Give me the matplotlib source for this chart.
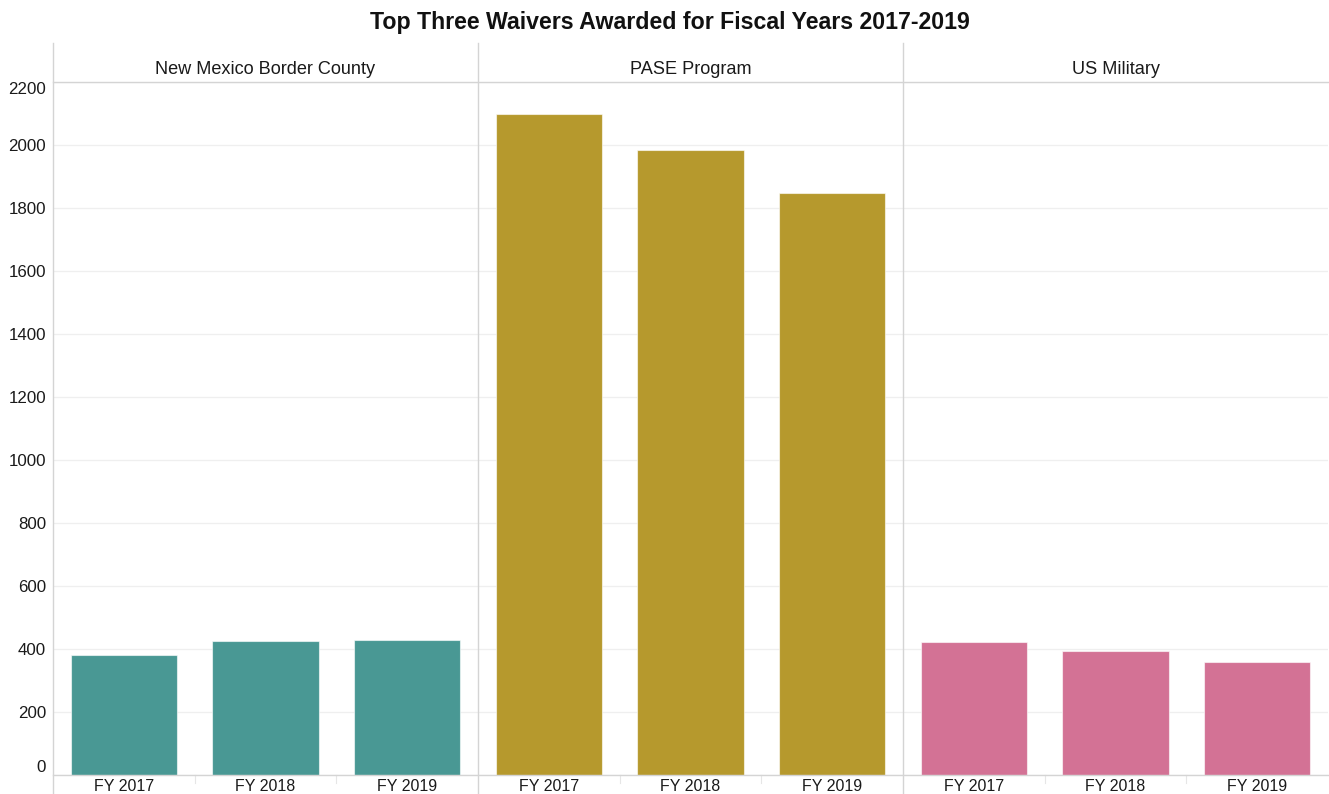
import matplotlib
matplotlib.use("Agg")
import matplotlib.pyplot as plt
from matplotlib.lines import Line2D

plt.rcParams['font.family'] = ['Liberation Sans', 'DejaVu Sans']

title = "Top Three Waivers Awarded for Fiscal Years 2017-2019"
panels = ["New Mexico Border County", "PASE Program", "US Military"]
years = ["FY 2017", "FY 2018", "FY 2019"]
nm_values = [381, 424, 427]
pase_values = [2098, 1983, 1848]
mil_values = [421, 394, 360]
panel_values = [nm_values, pase_values, mil_values]
colors = ["#499894", "#B6992D", "#D37295"]
yticks = list(range(0, 2201, 200))

W, H = 1329, 794
fig = plt.figure(figsize=(W / 100, H / 100), dpi=100)

x_left, x_right = 53, 1328
y_zero, y_top = 775, 82
header_top = 43
pw = (x_right - x_left) / 3

def fx(px):
    return px / W

def fy(py):
    return 1 - py / H

axes = []
for i, (name, vals, col) in enumerate(zip(panels, panel_values, colors)):
    ax = fig.add_axes([fx(x_left + i * pw), fy(y_zero), pw / W, (y_zero - y_top) / H])
    xs = list(range(len(years)))
    ax.bar(xs, vals, width=0.75, color=col, edgecolor=(1, 1, 1, 0.6), linewidth=0.8, zorder=3)
    ax.set_xlim(-0.5, 2.5)
    ax.set_ylim(0, 2200)
    ax.set_yticks(yticks)
    for t in yticks:
        ax.axhline(t, color="#efefef", linewidth=0.9, zorder=1)
    ax.set_xticks(xs)
    ax.set_xticklabels(years, fontsize=11.5, color="#1a1a1a")
    ax.tick_params(axis='x', length=0, pad=3)
    for s in ax.spines.values():
        s.set_visible(False)
    if i == 0:
        ax.tick_params(axis='y', length=0, labelsize=12.2, labelcolor="#1a1a1a", pad=5)
        ax.set_yticklabels([str(t) for t in yticks])
        for lab, t in zip(ax.get_yticklabels(), yticks):
            if t == 0:
                lab.set_va('bottom')
            elif t == 2200:
                lab.set_va('top')
    else:
        ax.tick_params(axis='y', length=0, labelleft=False)
    # small category separators below zero line
    for b in [0.5, 1.5]:
        ax.plot([b, b], [0, -25], color="#e6e6e6", linewidth=0.8, clip_on=False)
    axes.append(ax)
    # header text
    fig.text(fx(x_left + (i + 0.5) * pw), fy(70), name,
             ha='center', va='center', fontsize=13.1, color="#1a1a1a")

# frame lines
line_col = "#d4d4d4"
for i in range(3):
    xp = x_left + i * pw
    fig.add_artist(Line2D([fx(xp), fx(xp)], [fy(header_top), fy(H)], color=line_col, linewidth=1.0))
fig.add_artist(Line2D([fx(x_left), fx(W)], [fy(y_top), fy(y_top)], color=line_col, linewidth=1.0))
fig.add_artist(Line2D([fx(x_left), fx(W)], [fy(y_zero), fy(y_zero)], color=line_col, linewidth=1.0))

fig.text(fx(670), fy(28.5), title, ha='center', va='baseline', fontsize=16.7, fontweight='bold', color="#111111")

fig.savefig("out.png", dpi=100, facecolor="white")
